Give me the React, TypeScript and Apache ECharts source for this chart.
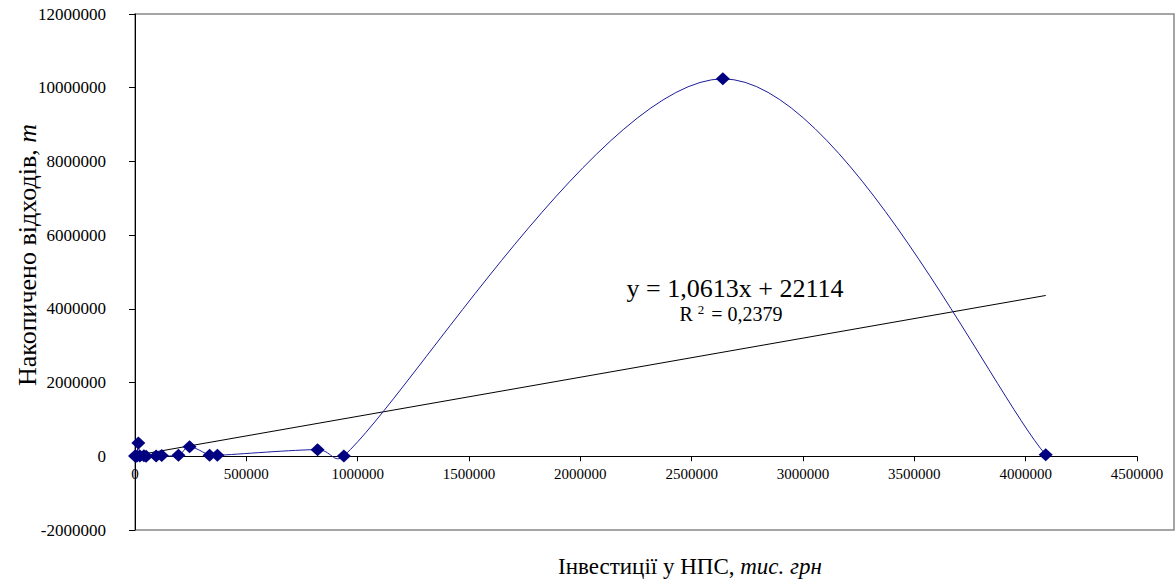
import React, { useEffect, useRef } from "react";
import * as echarts from "echarts";

// Investments in oil pumping stations, thousand UAH
const invest = [0, 8000, 15000, 22000, 40000, 50000, 95000, 120000, 195000, 245000, 335000, 370000, 820000, 938000, 2640000, 4090000];
// Accumulated waste, t
const waste = [5000, 2000, 360000, 10000, 15000, 3000, 8000, 20000, 25000, 260000, 30000, 25000, 180000, 10000, 10240000, 40000];

// Linear trend (as shown on the chart)
const slope = 1.0613;
const intercept = 22114;
const rSquared = "0,2379";

const xMin = 0, xMax = 4500000, xStep = 500000;
const yMin = -2000000, yMax = 12000000, yStep = 2000000;

const xTitle = "Інвестиції у НПС, ";
const xTitleItalic = "тис. грн";
const yTitle = "Накопичено відходів, ";
const yTitleItalic = "т";

const FONT = "Liberation Serif";

const GRID = { left: 135, top: 14, right: 39, bottom: 51 };
const H = 581;

export default function App() {
  const ref = useRef<HTMLDivElement>(null);

  useEffect(() => {
    if (!ref.current) return;
    const chart = echarts.init(ref.current, undefined, { renderer: "svg" });
    const points = invest.map((x, i) => [x, waste[i]]);
    const tx0 = Math.min(...invest);
    const tx1 = Math.max(...invest);
    const trend = [
      [tx0, slope * tx0 + intercept],
      [tx1, slope * tx1 + intercept],
    ];
    const eq = `y = ${String(slope).replace(".", ",")}x + ${intercept}`;
    const plotH = H - GRID.top - GRID.bottom;
    const xAxisOffset = -((0 - yMin) / (yMax - yMin)) * plotH;

    const dist = (a: number[], b: number[]) => Math.hypot(b[0] - a[0], b[1] - a[1]);
    const capped = (vx: number, vy: number, maxLen: number) => {
      const len = Math.hypot(vx, vy);
      if (len > maxLen && len > 0) {
        const k = maxLen / len;
        return [vx * k, vy * k];
      }
      return [vx, vy];
    };

    // Excel-like smoothed line (Catmull-Rom bezier in screen space, tangents capped)
    const renderSpline = (params: any, api: any) => {
      if (params.dataIndex !== 0) return null;
      const p = points.map((d) => api.coord(d));
      const n = p.length;
      let d = `M${p[0][0]},${p[0][1]}`;
      for (let i = 0; i < n - 1; i++) {
        const p0 = p[Math.max(i - 1, 0)];
        const p1 = p[i];
        const p2 = p[i + 1];
        const p3 = p[Math.min(i + 2, n - 1)];
        const half = dist(p1, p2) / 2;
        const t1 = capped((p2[0] - p0[0]) / 6, (p2[1] - p0[1]) / 6, half);
        const t2 = capped((p3[0] - p1[0]) / 6, (p3[1] - p1[1]) / 6, half);
        const c1x = p1[0] + t1[0];
        const c1y = p1[1] + t1[1];
        const c2x = p2[0] - t2[0];
        const c2y = p2[1] - t2[1];
        d += ` C${c1x},${c1y} ${c2x},${c2y} ${p2[0]},${p2[1]}`;
      }
      return {
        type: "path",
        shape: { pathData: d },
        style: { fill: "none", stroke: "#1c1c9c", lineWidth: 1 },
        silent: true,
      };
    };

    chart.setOption({
      animation: false,
      backgroundColor: "#ffffff",
      textStyle: { fontFamily: FONT },
      grid: { ...GRID, containLabel: false },
      xAxis: {
        type: "value",
        min: xMin,
        max: xMax,
        interval: xStep,
        offset: xAxisOffset,
        splitLine: { show: false },
        axisLine: { onZero: false, lineStyle: { color: "#000", width: 1 } },
        axisTick: { inside: false, length: 5, lineStyle: { color: "#000" } },
        axisLabel: {
          color: "#000",
          fontSize: 15,
          fontFamily: FONT,
          margin: 10,
          formatter: (v: number) => String(v),
        },
      },
      yAxis: {
        type: "value",
        min: yMin,
        max: yMax,
        interval: yStep,
        splitLine: { show: false },
        axisLine: { onZero: false, lineStyle: { color: "#000", width: 1 } },
        axisTick: { inside: false, length: 6, lineStyle: { color: "#000" } },
        axisLabel: {
          color: "#000",
          fontSize: 17,
          fontFamily: FONT,
          margin: 29,
          formatter: (v: number) => String(v),
        },
      },
      graphic: [
        {
          type: "rect",
          silent: true,
          z: -1,
          shape: { x: 135, y: 14, width: 1039, height: 516 },
          style: { fill: "none", stroke: "#888888", lineWidth: 1.5 },
        },
        {
          type: "text",
          x: 690,
          y: 566,
          style: {
            text: `${xTitle}{i|${xTitleItalic}}`,
            fontSize: 23,
            fontFamily: FONT,
            fill: "#000",
            align: "center",
            verticalAlign: "middle",
            rich: { i: { fontStyle: "italic", fontSize: 23, fontFamily: FONT } },
          },
        },
        {
          type: "text",
          x: 27,
          y: 255,
          rotation: Math.PI / 2,
          style: {
            text: `${yTitle}{i|${yTitleItalic}}`,
            fontSize: 26,
            fontFamily: FONT,
            fill: "#000",
            align: "center",
            verticalAlign: "middle",
            rich: { i: { fontStyle: "italic", fontSize: 26, fontFamily: FONT } },
          },
        },
        {
          type: "text",
          x: 735,
          y: 288,
          style: {
            text: eq,
            fontSize: 26,
            fontFamily: FONT,
            fill: "#000",
            align: "center",
            verticalAlign: "middle",
          },
        },
        {
          type: "text",
          x: 731,
          y: 314,
          style: {
            text: `R {s|2} = ${rSquared}`,
            fontSize: 20,
            fontFamily: FONT,
            fill: "#000",
            align: "center",
            verticalAlign: "middle",
            rich: { s: { fontSize: 13, fontFamily: FONT, verticalAlign: "top", padding: [0, 2, 10, 0] } },
          },
        },
      ],
      series: [
        {
          type: "line",
          data: trend,
          symbol: "none",
          lineStyle: { color: "#000", width: 1 },
          z: 1,
          silent: true,
        },
        {
          type: "custom",
          coordinateSystem: "cartesian2d",
          data: points,
          renderItem: renderSpline,
          z: 2,
          silent: true,
        },
        {
          type: "scatter",
          data: points,
          symbol: "diamond",
          symbolSize: [14, 13],
          itemStyle: { color: "#000080", opacity: 1 },
          z: 3,
        },
      ],
    });
    return () => chart.dispose();
  }, []);

  return (
    <div
      ref={ref}
      style={{ position: "absolute", left: 0, top: 0, width: 1176, height: 581 }}
    />
  );
}
